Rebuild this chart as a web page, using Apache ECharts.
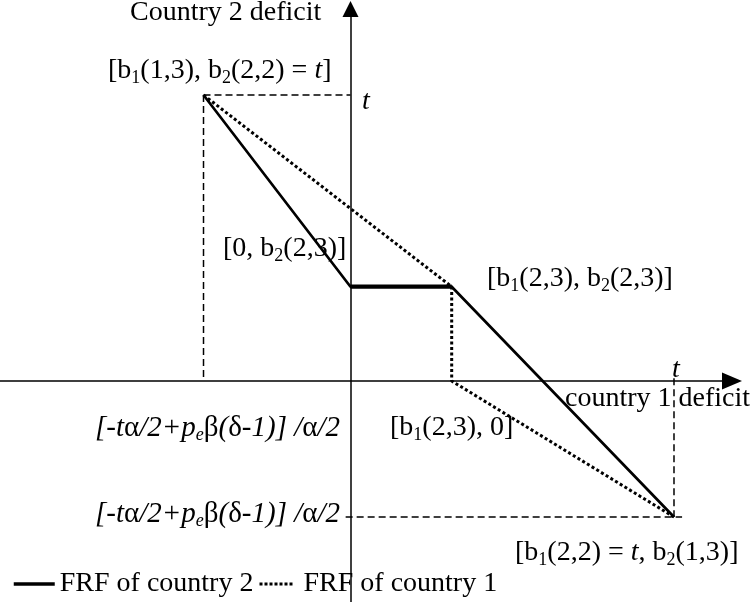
<!DOCTYPE html>
<html>
<head>
<meta charset="utf-8">
<script src="https://cdn.jsdelivr.net/npm/echarts@6/dist/echarts.min.js"></script>
<style>html,body{margin:0;padding:0;background:#fff}#c{width:752px;height:602px}</style>
</head>
<body>
<div id="c"></div>
<script>
// Data (units: t = 1 on both axes)
const frf2X = [-0.4544, 0, 0.3128, 1];
const frf2Y = [1, 0.3297, 0.3297, -0.4755];
const flatX = [0, 0.3128];
const flatY = [0.3297, 0.3297];
const frf1X = [-0.4544, 0.3128, 0.3128, 1];
const frf1Y = [1, 0.3297, 0, -0.4755];
const guideTopX = [-0.4544, 0];
const guideTopY = [1, 1];
const guideLeftX = [-0.4544, -0.4544];
const guideLeftY = [1, 0];
const guideBottomX = [-0.015, 1.025];
const guideBottomY = [-0.4755, -0.4755];
const guideRightX = [1, 1];
const guideRightY = [0.01, -0.4755];

const zip = (xs, ys) => xs.map((x, i) => [x, ys[i]]);
const FONT = 'Liberation Serif';
const FS = 28;

function makeRich(fs) {
  const sub = Math.round(fs * 0.63);
  return {
    s: { fontSize: sub, lineHeight: sub, verticalAlign: 'bottom', fontFamily: FONT, fill: '#000' },
    i: { fontStyle: 'italic', fontSize: fs, lineHeight: 33, fontFamily: FONT, fill: '#000' },
    g: { fontStyle: 'normal', fontSize: fs, lineHeight: 33, fontFamily: FONT, fill: '#000' },
    se: { fontStyle: 'italic', fontSize: sub, lineHeight: sub, verticalAlign: 'bottom', fontFamily: FONT, fill: '#000' }
  };
}

function txt(text, x, y, italic, fs, align) {
  fs = fs || FS;
  return {
    type: 'text', x: x, y: y, z: 100,
    style: {
      text: text, fontSize: fs, fontFamily: FONT, fill: '#000', lineHeight: 33,
      fontStyle: italic ? 'italic' : 'normal',
      textAlign: align || 'left', textVerticalAlign: 'middle', rich: makeRich(fs)
    }
  };
}

const dashed = { color: '#000', width: 1.5, type: [7, 4] };
function guide(xs, ys) {
  return { type: 'line', data: zip(xs, ys), symbol: 'none', silent: true,
    lineStyle: dashed, z: 2 };
}

const legendText = { fontSize: FS, fontFamily: FONT, color: '#000' };
const chart = echarts.init(document.getElementById('c'));
chart.setOption({
  animation: false,
  backgroundColor: '#fff',
  grid: { left: 0, top: 9, width: 732, height: 593 },
  xAxis: {
    type: 'value', min: -1.0835, max: 1.1793,
    axisLine: { onZero: true, symbol: ['none', 'triangle'], symbolSize: [17, 20],
      lineStyle: { color: '#000', width: 1.5 } },
    axisTick: { show: false }, axisLabel: { show: false }, splitLine: { show: false }
  },
  yAxis: {
    type: 'value', min: -0.7727, max: 1.3007,
    axisLine: { onZero: true, symbol: ['none', 'triangle'], symbolSize: [16, 16],
      lineStyle: { color: '#000', width: 1.5 } },
    axisTick: { show: false }, axisLabel: { show: false }, splitLine: { show: false }
  },
  legend: [
    { data: ['FRF of country 2'], left: 12, top: 570, padding: 0, itemWidth: 41, itemHeight: 14,
      itemStyle: { opacity: 0 }, lineStyle: { width: 3.5 },
      textStyle: legendText, selectedMode: false },
    { data: ['FRF of country 1'], left: 258, top: 570, padding: 0, itemWidth: 34, itemHeight: 14,
      itemStyle: { opacity: 0 }, lineStyle: { width: 3, type: [3, 2] },
      textStyle: Object.assign({ padding: [0, 0, 0, 5] }, legendText), selectedMode: false }
  ],
  series: [
    guide(guideTopX, guideTopY),
    guide(guideLeftX, guideLeftY),
    guide(guideBottomX, guideBottomY),
    guide(guideRightX, guideRightY),
    { name: 'FRF of country 1', type: 'line', data: zip(frf1X, frf1Y), symbol: 'none',
      lineStyle: { color: '#000', width: 3, type: [3, 2.5] }, itemStyle: { color: '#000' }, z: 3 },
    { name: 'FRF of country 2', type: 'line', data: zip(frf2X, frf2Y), symbol: 'none',
      lineStyle: { color: '#000', width: 2.7 }, itemStyle: { color: '#000' }, z: 4 },
    { name: 'flat', type: 'line', data: zip(flatX, flatY), symbol: 'none',
      lineStyle: { color: '#000', width: 4.2 }, z: 4 }
  ],
  graphic: [
    txt('Country 2 deficit', 130, 12.5, false),
    txt('[b{s|1}(1,3), b{s|2}(2,2) = {i|t}]', 108, 71, false),
    txt('t', 362, 102, true),
    txt('[0, b{s|2}(2,3)]', 223, 249, false),
    txt('[b{s|1}(2,3), b{s|2}(2,3)]', 487, 279, false),
    txt('t', 672, 370, true),
    txt('country 1 deficit', 565, 399, false),
    txt('[-t{g|α}/2+p{se|e}{g|β}({g|δ}-1)] /{g|α}/2', 340, 428, true, 29, 'right'),
    txt('[b{s|1}(2,3), 0]', 390, 428, false),
    txt('[-t{g|α}/2+p{se|e}{g|β}({g|δ}-1)] /{g|α}/2', 340, 514, true, 29, 'right'),
    txt('[b{s|1}(2,2) = {i|t}, b{s|2}(1,3)]', 515, 553, false)
  ]
});
</script>
</body>
</html>
